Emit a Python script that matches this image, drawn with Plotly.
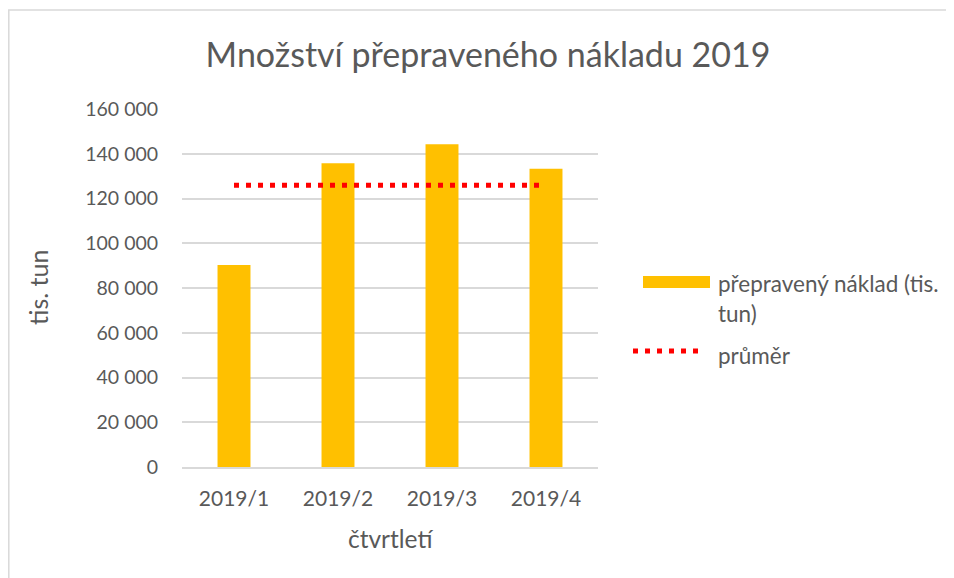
import plotly.graph_objects as go

categories = ["2019/1", "2019/2", "2019/3", "2019/4"]
cargo = [90300, 135700, 144300, 133300]
average = [125900, 125900, 125900, 125900]
y_ticks = [0, 20000, 40000, 60000, 80000, 100000, 120000, 140000, 160000]

FONT = "Lato"
GRAY = "#595959"

# the page body has an 8px margin; screen coordinates below are shifted by it
OFF = 8
W, H = 954, 578
L, R, T, B = 182 - OFF, 598 - OFF, 109 - OFF, 467 - OFF
pw, ph = R - L, B - T

def px(x):
    return (x - OFF - L) / pw

def py(y):
    return (B - (y - OFF)) / ph

fig = go.Figure()
fig.add_trace(go.Bar(x=categories, y=cargo, marker=dict(color="#FFC000", line_width=0),
                     name="přepravený náklad (tis. tun)", showlegend=False))
fig.add_trace(go.Scatter(x=categories, y=average, mode="lines",
                         line=dict(color="#FF0000", width=5, dash="5px,7px"),
                         name="průměr", showlegend=False))

fig.update_layout(
    width=W, height=H,
    margin=dict(l=L, r=W - R, t=T, b=H - B, pad=0),
    paper_bgcolor="white", plot_bgcolor="white",
    separators=", ",
    bargap=0.683,
    font=dict(family=FONT, color=GRAY),
    title=dict(text="Množství přepraveného nákladu 2019", x=px(488), xanchor="center",
               xref="paper", y=1 - (55 - OFF) / H, yanchor="middle",
               font=dict(family=FONT, size=34, color=GRAY)),
    xaxis=dict(showgrid=False, showline=True, linecolor="#d9d9d9", linewidth=1.5,
               tickfont=dict(size=21, color=GRAY), ticks="outside", ticklen=12,
               tickcolor="rgba(0,0,0,0)", fixedrange=True),
    yaxis=dict(range=[0, 160000], tickvals=y_ticks, tickformat=",d",
               showgrid=True, gridcolor="#d9d9d9", gridwidth=1.5, zeroline=False,
               showline=False, tickfont=dict(size=19.5, color=GRAY),
               ticks="outside", ticklen=19, tickcolor="rgba(0,0,0,0)"),
    showlegend=False,
)

annotations = [
    dict(text="tis. tun", x=px(38), y=py(288), textangle=-90, font=dict(size=25, color=GRAY)),
    dict(text="čtvrtletí", x=px(390), y=py(538), font=dict(size=24.5, color=GRAY)),
    dict(text="přepravený náklad (tis.", x=px(716), y=py(283), xanchor="left",
         font=dict(size=22.5, color=GRAY)),
    dict(text="tun)", x=px(716), y=py(313), xanchor="left", font=dict(size=22.5, color=GRAY)),
    dict(text="průměr", x=px(716), y=py(355), xanchor="left", font=dict(size=22.5, color=GRAY)),
]
for a in annotations:
    a.setdefault("xanchor", "center")
    a.update(xref="paper", yref="paper", showarrow=False, yanchor="middle")
fig.update_layout(annotations=annotations)

shapes = [
    dict(type="rect", x0=px(8.8), x1=px(975), y0=py(600), y1=py(10),
         line=dict(color="#d9d9d9", width=1.5), fillcolor="rgba(0,0,0,0)"),
    dict(type="rect", x0=px(643), x1=px(710), y0=py(288), y1=py(276),
         line=dict(width=0), fillcolor="#FFC000"),
    dict(type="line", x0=px(633), x1=px(705), y0=py(351), y1=py(351),
         line=dict(color="#FF0000", width=5, dash="5px,7px")),
]
for s in shapes:
    s.update(xref="paper", yref="paper")
fig.update_layout(shapes=shapes)

fig.write_html("out.html", config={"displayModeBar": False})
